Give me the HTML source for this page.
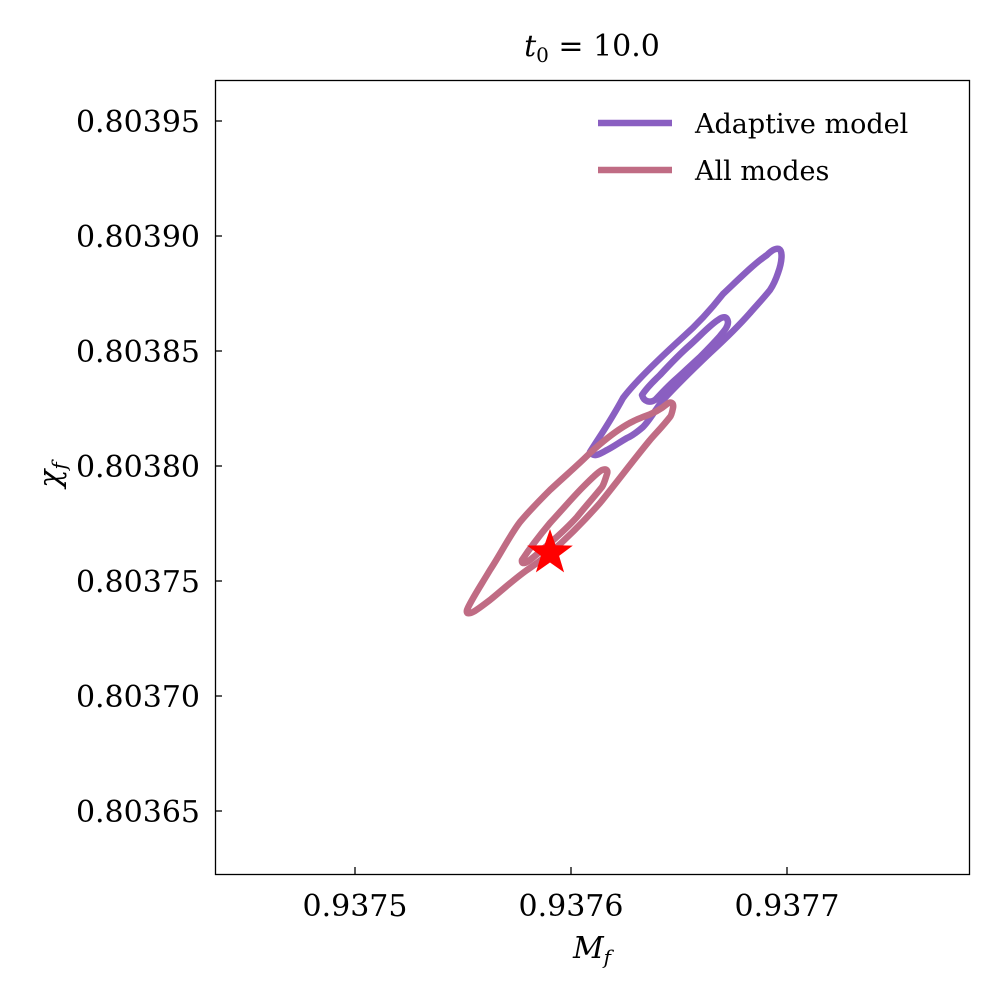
<!DOCTYPE html>
<html><head><style>
body{margin:0;background:#fff;}
svg text{font-family:"DejaVu Serif","Liberation Serif",serif;fill:#000;}
</style></head><body>
<svg width="1000" height="1000" viewBox="0 0 1000 1000" xmlns="http://www.w3.org/2000/svg">
<rect width="1000" height="1000" fill="#fff"/>
<text x="592" y="56" font-size="30" text-anchor="middle"><tspan font-style="italic">t</tspan><tspan font-size="20" dy="6">0</tspan><tspan dy="-6"> = 10.0</tspan></text>
<g fill="none" stroke-width="6.5" stroke-linejoin="round" stroke-linecap="round">
<path stroke="#8a5fc1" d="M590,452 C600,436 610,422 623,398 C635,382 660,358 683,337 C700,322 712,308 723,294 C740,278 755,263 767,255 C772,250 776,248 779,249 C783,251 782,262 778,273 C775,282 772,287 770,290 C762,300 755,307 750,313 C735,330 722,342 710,353 C690,372 675,387 663,400 C655,410 650,420 643,427 C636,433 632,436 627,438 C620,442 613,447 607,450 C600,454 594,458 590,452 Z"/>
<path stroke="#8a5fc1" d="M642,395 C648,386 655,380 660,375 C672,362 682,352 690,345 C700,336 710,325 718,320 C723,316 727,316 728,322 C728,327 724,331 720,336 C712,345 706,351 700,357 C690,366 682,374 675,380 C666,388 660,395 655,400 C650,403 644,402 642,395 Z"/>
<path stroke="#c06c84" d="M467,610 C470,602 478,590 490,570 C500,555 510,535 520,522 C530,510 540,500 550,490 C565,476 578,465 590,453 C602,442 612,434 623,427 C632,421 638,419 643,417 C652,414 660,410 667,404 C671,401 674,403 673,408 C672,413 671,416 670,417 C663,426 657,432 650,440 C635,458 617,482 600,503 C585,520 565,540 550,553 C540,561 533,566 527,570 C513,580 500,592 490,600 C482,606 477,610 473,612 C469,614 466,614 467,610 Z"/>
<path stroke="#c06c84" d="M522,560 C530,548 540,535 550,523 C562,510 573,497 583,487 C592,478 598,472 602,470 C607,468 608,471 607,474 C605,480 604,484 602,487 C594,497 585,507 577,517 C568,527 558,536 550,543 C542,550 535,556 530,560 C526,563 521,565 522,560 Z"/>
</g>
<polygon fill="#ff0000" transform="translate(550,553)" points="0,-24 5.6,-7.7 22.8,-7.4 9.1,2.9 14.1,19.4 0,9.5 -14.1,19.4 -9.1,2.9 -22.8,-7.4 -5.6,-7.7"/>
<rect x="215.5" y="80.5" width="754" height="794" fill="none" stroke="#000" stroke-width="1.3"/>
<g stroke="#000" stroke-width="1.3">
<line x1="355" y1="874" x2="355" y2="867"/><line x1="571" y1="874" x2="571" y2="867"/><line x1="787" y1="874" x2="787" y2="867"/>
<line x1="215" y1="121" x2="222" y2="121"/><line x1="215" y1="236" x2="222" y2="236"/><line x1="215" y1="351" x2="222" y2="351"/><line x1="215" y1="466" x2="222" y2="466"/><line x1="215" y1="581" x2="222" y2="581"/><line x1="215" y1="696" x2="222" y2="696"/><line x1="215" y1="811" x2="222" y2="811"/>
</g>
<g font-size="30" text-anchor="middle">
<text x="355" y="916">0.9375</text><text x="571" y="916">0.9376</text><text x="787" y="916">0.9377</text>
</g>
<g font-size="30" text-anchor="end">
<text x="200" y="132">0.80395</text><text x="200" y="247">0.80390</text><text x="200" y="362">0.80385</text><text x="200" y="477">0.80380</text><text x="200" y="592">0.80375</text><text x="200" y="707">0.80370</text><text x="200" y="822">0.80365</text>
</g>
<text x="592" y="958" font-size="30" text-anchor="middle"><tspan font-style="italic">M</tspan><tspan font-size="20" font-style="italic" dy="6">f</tspan></text>
<text transform="translate(60,475) rotate(-90)" font-size="30" text-anchor="middle"><tspan font-style="italic">χ</tspan><tspan font-size="20" font-style="italic" dy="6">f</tspan></text>
<line x1="598" y1="123" x2="672" y2="123" stroke="#8a5fc1" stroke-width="6.5"/>
<line x1="598" y1="170" x2="672" y2="170" stroke="#c06c84" stroke-width="6.5"/>
<text x="695" y="133" font-size="27">Adaptive model</text>
<text x="695" y="180" font-size="27">All modes</text>
</svg>
</body></html>
